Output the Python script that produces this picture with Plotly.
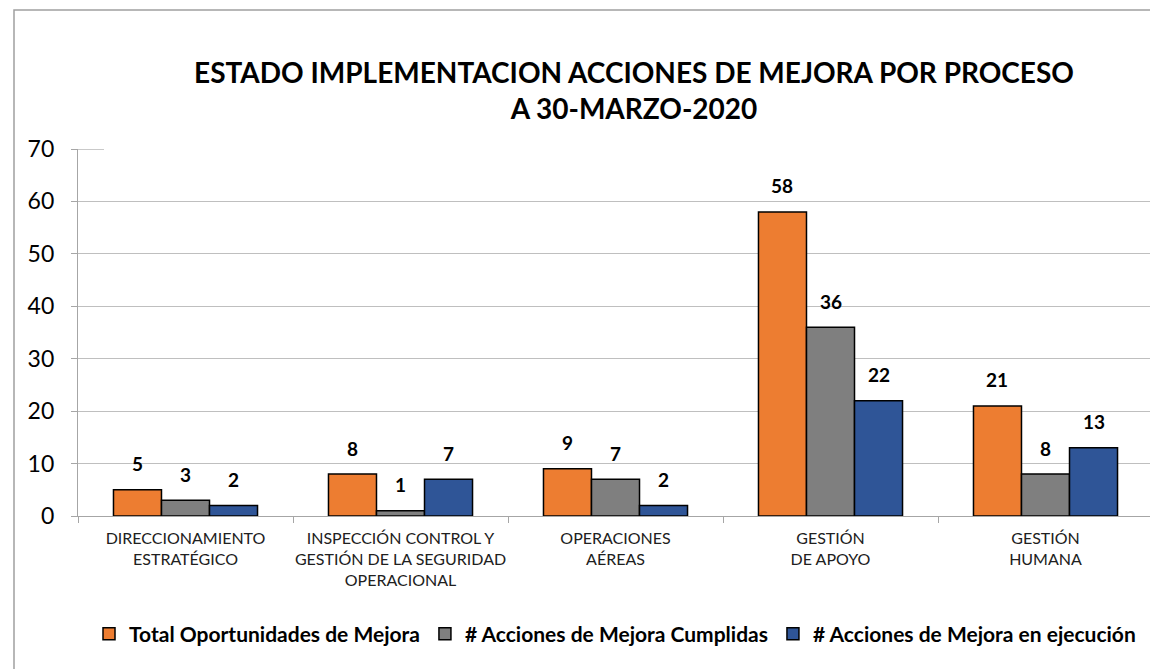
import plotly.graph_objects as go

categories = [
    "DIRECCIONAMIENTO<br>ESTRATÉGICO",
    "INSPECCIÓN CONTROL Y<br>GESTIÓN DE LA SEGURIDAD<br>OPERACIONAL",
    "OPERACIONES<br>AÉREAS",
    "GESTIÓN<br>DE APOYO",
    "GESTIÓN<br>HUMANA",
]
series_names = [
    "Total Oportunidades de Mejora",
    "# Acciones de Mejora Cumplidas",
    "# Acciones de Mejora en ejecución",
]
total_oportunidades = [5, 8, 9, 58, 21]
acciones_cumplidas = [3, 1, 7, 36, 8]
acciones_ejecucion = [2, 7, 2, 22, 13]
y_ticks = [0, 10, 20, 30, 40, 50, 60, 70]

colors = ["#ED7D31", "#7F7F7F", "#2F5597"]
series_values = [total_oportunidades, acciones_cumplidas, acciones_ejecucion]

FONT = "Lato"
OFFX, OFFY = 4, 8  # page body margin compensation
W, H = 1158 - OFFX, 669 - OFFY
ML, MT = 74 - OFFX, 149 - OFFY
plot_w = 1149 - 74
plot_h = 516 - 149
MR = W - ML - plot_w
MB = H - MT - plot_h

fig = go.Figure()
for name, vals, col in zip(series_names, series_values, colors):
    fig.add_trace(go.Bar(
        x=categories, y=vals, name=f"<b>{name}</b>",
        marker=dict(color=col, line=dict(color="#000000", width=1.5)),
    ))

bargap = 0.33
bar_px = plot_w / len(categories) * (1 - bargap) / 3
for i, vals in enumerate(series_values):
    for c, v in zip(categories, vals):
        fig.add_annotation(
            x=c, y=v, xref="x", yref="y", text=f"<b>{v}</b>",
            showarrow=False, xshift=(i - 1) * bar_px, yshift=26,
            yanchor="middle",
            font=dict(family=FONT, size=19, color="#000000"),
        )

# chart frame (partially visible)
fig.add_shape(type="rect", xref="paper", yref="paper",
              x0=(10 - 74) / plot_w, x1=1.2,
              y0=-1.0, y1=(516 - 10) / plot_h,
              line=dict(color="#A0A0A0", width=1.5), fillcolor="rgba(0,0,0,0)",
              layer="below")
# short line at the top of the value axis
fig.add_shape(type="line", xref="paper", yref="y",
              x0=0, x1=26 / plot_w, y0=y_ticks[-1], y1=y_ticks[-1],
              line=dict(color="#A6A6A6", width=1.2))

fig.update_layout(
    width=W, height=H,
    margin=dict(l=ML, r=MR, t=MT, b=MB, autoexpand=False),
    paper_bgcolor="white", plot_bgcolor="white",
    barmode="group", bargap=bargap, bargroupgap=0,
    title=dict(
        text="<b>ESTADO IMPLEMENTACION ACCIONES DE MEJORA POR PROCESO<br>A 30-MARZO-2020</b>",
        x=(630 - OFFX) / W, xanchor="center", xref="container",
        y=1 - (83 - OFFY) / H, yanchor="top", yref="container",
        font=dict(family=FONT, size=28, color="#000000"),
    ),
    font=dict(family=FONT, color="#000000"),
    showlegend=True,
    legend=dict(
        orientation="h", x=(611 - 74) / plot_w, xanchor="center",
        y=-(634 - 516) / plot_h, yanchor="middle",
        font=dict(family=FONT, size=21, color="#000000"),
        traceorder="normal", itemwidth=30,
    ),
    xaxis=dict(
        showline=True, linecolor="#A6A6A6", linewidth=1.2,
        ticks="outside", tickson="boundaries", ticklen=6, tickcolor="#A6A6A6",
        tickfont=dict(family=FONT, size=16, color="#202020"),
        tickangle=0,
        ticklabelstandoff=8,
        showgrid=False,
    ),
    yaxis=dict(
        range=[0, 70], tickvals=y_ticks,
        showline=True, linecolor="#A6A6A6", linewidth=1.2,
        ticks="outside", ticklen=6, tickcolor="#A6A6A6",
        ticklabelstandoff=12,
        showgrid=True, gridcolor="#BFBFBF", gridwidth=1.2,
        tickfont=dict(family=FONT, size=23, color="#000000"),
        zeroline=False,
    ),
)

fig.write_html("out.html")
